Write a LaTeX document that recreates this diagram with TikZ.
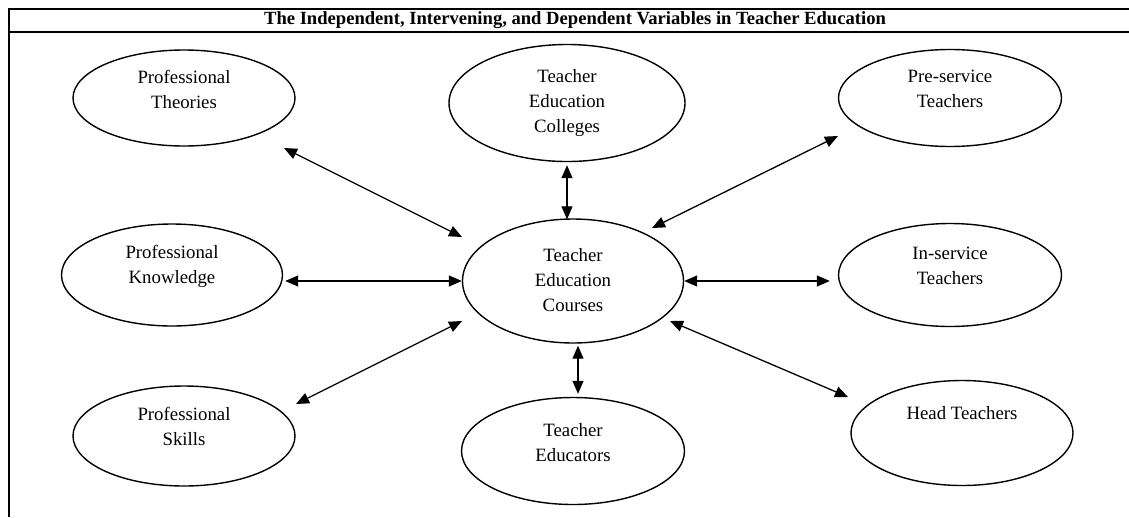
\documentclass[tikz,border=0pt]{standalone}
\usepackage{fontspec}
\setmainfont{Liberation Serif}
\usetikzlibrary{shapes.geometric,arrows.meta}
\begin{document}
\begin{tikzpicture}[x=1pt,y=-1pt,
  ell/.style={draw,ellipse,line width=1.4pt,inner sep=0pt},
  txt/.style={align=center,font=\fontsize{18.8}{25}\selectfont,inner sep=0pt},
  link/.style={line width=1.3pt,{Triangle[length=13pt,width=11pt]}-{Triangle[length=13pt,width=11pt]}},
  frame/.style={line width=1.2pt}]
\useasboundingbox (0,0) rectangle (1129,517);
% frame
\draw[frame] (9,517) -- (9,9) -- (1129,9);
\draw[frame] (9,32) -- (1129,32);
\node[font=\bfseries\fontsize{18.6}{20}\selectfont,inner sep=0pt] (title) at (575,20.5) {The Independent, Intervening, and Dependent Variables in Teacher Education};
% ellipses
\node[ell,minimum width=222pt,minimum height=96pt] (th) at (184,98) {};
\node[ell,minimum width=236pt,minimum height=117pt] (col) at (567,103) {};
\node[ell,minimum width=223pt,minimum height=97pt] (pre) at (950,98) {};
\node[ell,minimum width=221pt,minimum height=102pt] (kn) at (172,275) {};
\node[ell,minimum width=221pt,minimum height=124pt] (cou) at (573,281) {};
\node[ell,minimum width=223pt,minimum height=103pt] (ins) at (950,275) {};
\node[ell,minimum width=222pt,minimum height=100pt] (sk) at (184,436) {};
\node[ell,minimum width=223pt,minimum height=107pt] (edu) at (573,451) {};
\node[ell,minimum width=222pt,minimum height=105pt] (hd) at (962,433) {};
% texts
\node[txt] (tth) at (184,89) {Professional\\Theories};
\node[txt] (tcol) at (567,103) {Teacher\\Education\\Colleges};
\node[txt] (tpre) at (950,89) {Pre-service\\Teachers};
\node[txt] (tkn) at (172,266) {Professional\\Knowledge};
\node[txt] (tcou) at (573,280) {Teacher\\Education\\Courses};
\node[txt] (tins) at (950,266) {In-service\\Teachers};
\node[txt] (tsk) at (184,426) {Professional\\Skills};
\node[txt] (tedu) at (573,443) {Teacher\\Educators};
\node[txt] (thd) at (962,413) {Head Teachers};
% connectors
\draw[link] ([shift={(100,50)}]th.center) -- ([shift={(-111,-44)}]cou.center);
\draw[link,shorten <=3pt,shorten >=-1pt] (col.south) -- (col.south |- cou.north);
\draw[link] ([shift={(79,-53)}]cou.center) -- ([shift={(-112,38)}]pre.center);
\coordinate (kw) at (cou.west |- cou.center);
\draw[link,shorten <=2pt] (kn.east |- kw) -- (kw);
\draw[link,shorten >=8pt] (cou.east) -- (cou.east -| ins.west);
\draw[link] ([shift={(112,-32)}]sk.center) -- ([shift={(-111,40)}]cou.center);
\draw[link,shorten <=2pt,shorten >=3pt] ([xshift=5pt]cou.south) -- ([xshift=5pt]cou.south |- edu.north);
\draw[link] ([shift={(97,40)}]cou.center) -- ([shift={(-114,-36)}]hd.center);
\end{tikzpicture}
\end{document}
